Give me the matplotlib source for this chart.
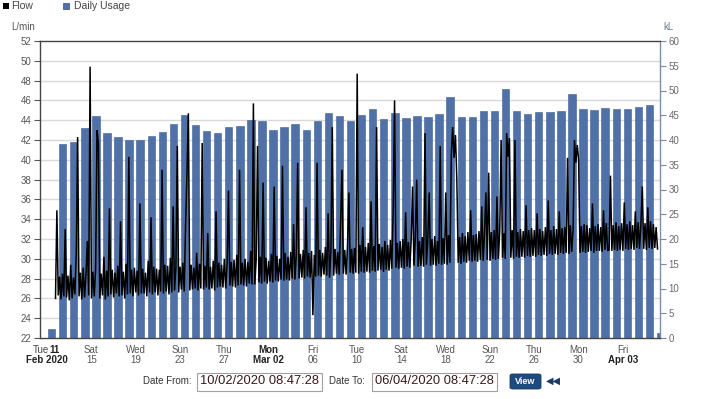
import matplotlib
matplotlib.use("Agg")
import matplotlib.pyplot as plt
from matplotlib.patches import Rectangle, FancyBboxPatch

plt.rcParams["font.family"] = ["Liberation Sans", "DejaVu Sans"]

# ---------------- data ----------------
# x axis: days since 10/02/2020 08:47:28 (0 .. 56)
day_tick_pos = [0.634 + 4 * i for i in range(14)]
tick_top = ["Tue", "Sat", "Wed", "Sun", "Thu", "Mon", "Fri", "Tue", "Sat", "Wed", "Sun", "Thu", "Mon", "Fri"]
tick_bottom = ["Feb 2020", "15", "19", "23", "27", "Mar 02", "06", "10", "14", "18", "22", "26", "30", "Apr 03"]
tick_bold_top = [False, False, False, False, False, True, False, False, False, False, False, False, False, False]
tick_bold_bottom = [True, False, False, False, False, True, False, False, False, False, False, False, False, True]

# Daily usage (kL), one bar per day, first and last are partial days
usage_kl = [1.8, 39.1, 39.5, 42.5, 44.9, 41.4, 40.7, 40.0, 40.0, 40.9,
            41.6, 43.2, 45.1, 43.0, 41.8, 41.4, 42.6, 42.8, 44.0, 43.8,
            42.0, 42.6, 43.2, 42.1, 43.9, 45.5, 44.8, 43.8, 45.1, 46.2,
            44.2, 45.5, 44.4, 44.8, 44.6, 45.3, 48.6, 44.6, 44.6, 45.9,
            45.9, 50.4, 45.9, 45.3, 45.7, 45.7, 45.9, 49.3, 46.2, 46.1,
            46.5, 46.3, 46.3, 46.7, 47.1, 1.0]
bar_first_day = 1.05

# Flow (L/min), 8 readings per day (every 3 h), first row starts at day 1.4
flow_first_time = 1.4
flow_step = 0.125
flow_rows = [
    [26.0, 34.9, 26.3, 28.2, 25.9, 28.5, 26.2, 33.0],
    [26.1, 28.3, 25.8, 29.4, 26.0, 28.1, 26.4, 30.5],
    [42.3, 26.2, 28.6, 25.9, 29.1, 26.1, 28.4, 31.8],
    [26.3, 49.4, 26.0, 28.7, 26.2, 29.0, 43.0, 41.7],
    [26.0, 28.5, 26.3, 30.2, 25.9, 28.8, 26.2, 35.1],
    [26.4, 28.9, 26.1, 28.6, 26.5, 29.3, 26.2, 33.8],
    [26.3, 28.7, 26.0, 29.5, 26.4, 40.3, 26.5, 28.9],
    [26.2, 29.1, 26.6, 28.8, 26.3, 35.6, 26.5, 29.0],
    [26.5, 28.6, 26.2, 29.8, 26.6, 34.2, 26.4, 29.2],
    [26.6, 29.0, 26.3, 28.9, 26.7, 39.0, 26.5, 29.4],
    [26.7, 29.3, 26.4, 30.1, 26.6, 35.3, 26.8, 29.1],
    [41.4, 26.6, 29.2, 26.9, 29.6, 26.7, 33.4, 38.7],
    [44.7, 26.8, 29.4, 26.9, 29.1, 27.0, 30.6, 26.8],
    [29.5, 27.0, 41.7, 26.9, 29.3, 27.1, 32.6, 26.9],
    [29.2, 27.0, 29.8, 26.8, 34.8, 27.1, 29.6, 27.2],
    [29.4, 27.1, 30.0, 27.0, 29.5, 36.9, 27.3, 29.7],
    [27.2, 29.9, 27.1, 30.4, 27.3, 39.0, 27.4, 29.6],
    [27.3, 30.0, 27.2, 29.7, 27.5, 30.8, 27.4, 45.7],
    [27.4, 29.9, 41.4, 27.6, 30.2, 27.5, 37.7, 27.7],
    [30.1, 27.5, 29.8, 27.7, 30.5, 27.6, 37.3, 27.8],
    [30.3, 27.7, 30.0, 27.9, 39.4, 27.8, 30.6, 27.9],
    [30.2, 27.8, 30.7, 28.0, 33.5, 27.9, 30.4, 39.7],
    [28.0, 30.5, 28.1, 30.9, 28.0, 35.2, 28.2, 30.6],
    [28.1, 30.8, 24.3, 30.4, 28.2, 39.7, 28.3, 30.9],
    [28.2, 30.6, 28.4, 31.2, 28.3, 34.6, 28.1, 30.8],
    [43.3, 28.3, 31.0, 28.5, 30.7, 28.4, 33.9, 39.0],
    [28.5, 30.9, 28.4, 31.3, 36.7, 28.6, 31.0, 28.5],
    [31.1, 28.6, 48.7, 28.5, 31.4, 28.7, 33.2, 28.6],
    [31.2, 28.7, 31.6, 28.6, 35.8, 28.8, 31.3, 28.7],
    [43.3, 28.8, 31.5, 28.9, 31.2, 28.7, 31.8, 28.9],
    [31.4, 28.8, 31.9, 29.0, 35.0, 46.0, 29.1, 31.6],
    [29.0, 31.8, 29.1, 32.0, 29.0, 34.7, 29.2, 31.7],
    [29.1, 31.9, 37.3, 29.3, 32.1, 38.0, 29.2, 31.8],
    [29.3, 32.2, 29.2, 42.7, 29.4, 31.9, 36.7, 29.3],
    [32.0, 29.4, 32.3, 29.3, 31.8, 29.5, 41.4, 29.4],
    [32.1, 29.5, 36.7, 29.4, 32.4, 29.6, 40.5, 43.3],
    [40.2, 42.5, 38.0, 29.6, 32.2, 29.5, 32.6, 29.7],
    [32.3, 29.6, 32.7, 29.8, 34.9, 29.7, 32.4, 29.8],
    [32.5, 29.7, 32.8, 29.9, 35.3, 29.8, 32.6, 36.7],
    [29.9, 38.7, 29.8, 32.7, 30.0, 32.9, 29.9, 36.3],
    [30.0, 32.8, 42.0, 30.1, 32.6, 30.0, 42.7, 40.3],
    [42.2, 30.1, 32.9, 30.0, 42.0, 30.2, 32.7, 30.1],
    [33.0, 30.2, 32.8, 30.1, 35.4, 30.3, 32.9, 30.2],
    [33.1, 30.3, 32.9, 30.2, 34.6, 30.4, 33.0, 30.3],
    [32.8, 30.4, 33.2, 30.3, 35.9, 30.5, 32.9, 30.4],
    [33.3, 30.5, 33.0, 30.4, 34.8, 30.6, 33.1, 30.5],
    [33.2, 30.6, 40.2, 30.5, 33.4, 30.7, 33.0, 42.0],
    [39.7, 41.5, 40.0, 30.6, 33.3, 30.7, 33.5, 30.6],
    [33.4, 30.7, 33.1, 30.8, 35.6, 30.6, 33.3, 30.8],
    [33.5, 30.8, 33.2, 30.7, 34.9, 30.9, 33.6, 30.8],
    [30.9, 38.4, 30.8, 33.4, 30.9, 33.7, 30.8, 33.3],
    [30.9, 33.6, 30.8, 35.7, 31.0, 33.5, 30.9, 33.8],
    [31.0, 33.4, 30.9, 34.8, 31.1, 33.7, 31.0, 33.5],
    [37.3, 31.0, 33.6, 30.9, 35.2, 31.1, 33.8, 31.0],
    [33.5, 31.1, 33.2, 31.0],
]

left_ticks = list(range(22, 53, 2))
right_ticks = list(range(0, 61, 5))

# ---------------- figure ----------------
W, H = 701, 399
fig = plt.figure(figsize=(W / 100, H / 100), dpi=100)


def fx(x):
    return x / W


def fy(y):
    return 1 - y / H


ax_bar = fig.add_axes([fx(40), fy(338), 620 / W, 297 / H])
ax_flow = ax_bar.twinx()

bar_color = "#5071a8"
# gridlines (aligned with left axis ticks)
for g in left_ticks[1:-1]:
    ax_bar.axhline((g - 22) * 2, color="#d9d9d9", lw=1.0, zorder=0)

bar_x = [bar_first_day + k for k in range(len(usage_kl))]
ax_bar.bar(bar_x, usage_kl, width=0.67, color=bar_color, edgecolor="#3f5f94",
           linewidth=0.4, zorder=2)
ax_bar.set_ylim(0, 60)
ax_bar.set_xlim(0, 56)

flow_t = []
flow_v = []
for r, row in enumerate(flow_rows):
    for j, v in enumerate(row):
        flow_t.append(flow_first_time + r + j * flow_step)
        flow_v.append(v)
ax_flow.plot(flow_t, flow_v, color="black", lw=1.1, zorder=3, solid_joinstyle="miter")
ax_flow.set_ylim(22, 52)
ax_flow.set_xlim(0, 56)

# axes placement
ax_flow.yaxis.tick_left()
ax_bar.yaxis.tick_right()
ax_flow.set_yticks(left_ticks)
ax_bar.set_yticks(right_ticks)
ax_flow.tick_params(axis="y", labelsize=7, labelcolor="#555555", color="#555555",
                    length=4, width=0.8, direction="out", pad=2)
ax_bar.tick_params(axis="y", labelsize=7, labelcolor="#6a6a6a", color="#7a8aa5",
                   length=4, width=0.8, direction="out", pad=2)

ax_flow.set_xticks(day_tick_pos)
ax_flow.set_xticklabels([])
ax_flow.tick_params(axis="x", length=4, width=0.8, color="#444444", direction="out")
ax_bar.set_xticks([])

for sp in ax_bar.spines.values():
    sp.set_visible(False)
for name in ["left", "top", "bottom"]:
    ax_flow.spines[name].set_color("#444444")
    ax_flow.spines[name].set_linewidth(1.0)
ax_flow.spines["right"].set_color("#7d8eab")
ax_flow.spines["right"].set_linewidth(1.0)

# x tick labels (two lines)
xt = ax_flow.get_xaxis_transform()
for i, pos in enumerate(day_tick_pos):
    top = tick_top[i]
    if i == 0:
        ax_flow.text(pos + 0.15, -0.04, top, transform=xt, ha="right", va="center",
                     fontsize=7, color="#444444")
        ax_flow.text(pos + 0.25, -0.04, "11", transform=xt, ha="left", va="center",
                     fontsize=7, color="#222222", fontweight="bold")
    else:
        ax_flow.text(pos, -0.04, top, transform=xt, ha="center", va="center",
                     fontsize=7, color="#222222" if tick_bold_top[i] else "#555555",
                     fontweight="bold" if tick_bold_top[i] else "normal")
    ax_flow.text(pos, -0.075, tick_bottom[i], transform=xt, ha="center", va="center",
                 fontsize=7, color="#222222" if tick_bold_bottom[i] else "#555555",
                 fontweight="bold" if tick_bold_bottom[i] else "normal")

# axis unit labels
fig.text(fx(23), fy(27), "L/min", fontsize=7, color="#555555", ha="center", va="center")
fig.text(fx(668), fy(27), "kL", fontsize=7, color="#6a7a95", ha="center", va="center")

# legend
fig.patches.append(Rectangle((fx(3), fy(9)), 6 / W, 6 / H, transform=fig.transFigure,
                             facecolor="black", edgecolor="none"))
fig.text(fx(11), fy(6), "Flow", fontsize=7.5, color="#444444", ha="left", va="center")
fig.patches.append(Rectangle((fx(63), fy(9)), 6 / W, 6 / H, transform=fig.transFigure,
                             facecolor=bar_color, edgecolor="#2f4f80", linewidth=0.5))
fig.text(fx(74), fy(6), "Daily Usage", fontsize=7.5, color="#444444", ha="left", va="center")

# date controls
fig.text(fx(143), fy(381), "Date From:", fontsize=7, color="#333333", ha="left", va="center")
fig.patches.append(Rectangle((fx(197), fy(391)), 125 / W, 18 / H, transform=fig.transFigure,
                             facecolor="white", edgecolor="#a0a0a0", linewidth=0.8))
fig.text(fx(200), fy(381), "10/02/2020 08:47:28", fontsize=9.3, color="#3a1818",
         ha="left", va="center")
fig.text(fx(329), fy(381), "Date To:", fontsize=7, color="#333333", ha="left", va="center")
fig.patches.append(Rectangle((fx(372), fy(391)), 125 / W, 18 / H, transform=fig.transFigure,
                             facecolor="white", edgecolor="#a0a0a0", linewidth=0.8))
fig.text(fx(375), fy(381), "06/04/2020 08:47:28", fontsize=9.3, color="#3a1818",
         ha="left", va="center")
fig.patches.append(FancyBboxPatch((fx(510), fy(389)), 31 / W, 15 / H,
                                  boxstyle="round,pad=0,rounding_size=0.004",
                                  transform=fig.transFigure, facecolor="#1d4b80",
                                  edgecolor="#163a63", linewidth=0.6))
fig.text(fx(525.5), fy(381.5), "View", fontsize=6.5, color="white", fontweight="bold",
         ha="center", va="center")
fig.text(fx(553), fy(381), "\u25c0\u25c0", fontsize=7, color="#1d3a66", ha="center",
         va="center", family="DejaVu Sans")

fig.savefig("out.png", dpi=100)
